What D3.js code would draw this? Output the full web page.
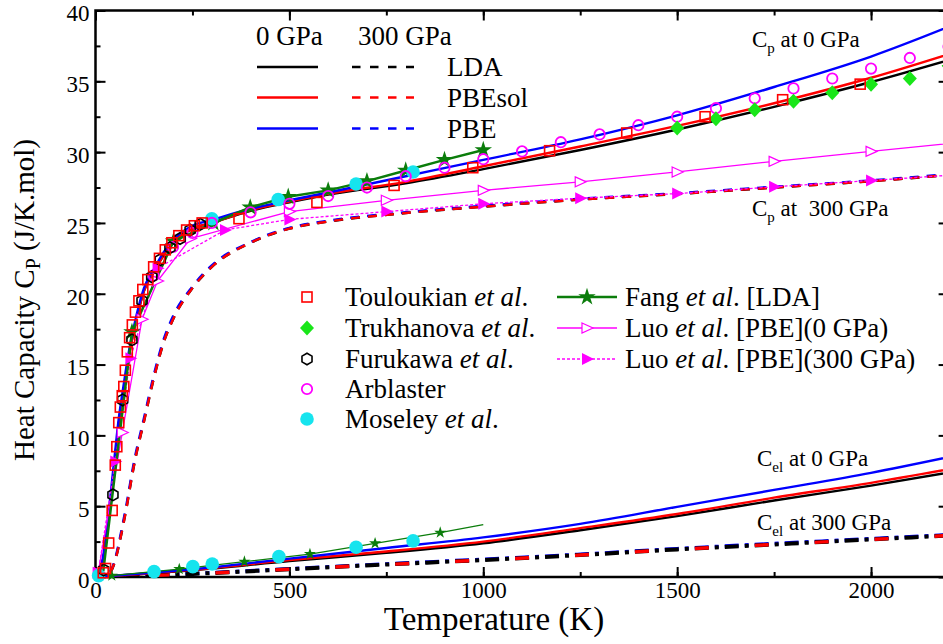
<!DOCTYPE html>
<html><head><meta charset="utf-8">
<script src="https://cdn.jsdelivr.net/npm/d3@7"></script>
<style>
body{margin:0;background:#fff}
text{font-family:"Liberation Serif","Times New Roman",serif;fill:#000;white-space:pre}
</style>
</head><body>
<svg id="c" width="943" height="644"></svg>
<script>
// ---------- DATA ----------
const xTicks = [0, 500, 1000, 1500, 2000];
const yTicks = [0, 5, 10, 15, 20, 25, 30, 35, 40];

// Cp at 0 GPa (DFT)
const T0 = [0,10,20,30,40,50,60,70,80,90,100,125,150,175,200,250,300,400,500,600,800,1000,1250,1500,1750,2000,2250];
const cpLDA0    = [0,0.3,1.3,3.2,5.6,8.2,10.8,12.7,14.5,16.2,17.5,20.2,21.5,22.7,23.6,24.6,25.0,25.85,26.45,27.0,27.8,28.8,30.15,31.6,33.2,34.95,36.9];
const cpPBEsol0 = [0,0.3,1.3,3.2,5.6,8.2,10.8,12.7,14.5,16.2,17.5,20.2,21.5,22.7,23.6,24.6,25.0,25.9,26.5,27.05,27.9,29.0,30.4,31.85,33.45,35.25,37.35];
const cpPBE0    = [0,0.35,1.5,3.6,6.1,8.7,11.2,13.1,14.9,16.5,17.8,20.4,21.7,22.9,23.8,24.8,25.2,26.0,26.6,27.15,28.3,29.45,30.9,32.6,34.6,36.75,39.4];

// Cp at 300 GPa (DFT)
const T3 = [0,20,30,40,50,60,70,80,90,100,125,150,175,200,250,300,400,500,600,800,1000,1250,1500,1750,2000,2250];
const cpLDA300    = [0,0.02,0.1,0.4,1.1,2.2,3.5,4.9,6.5,8.0,11.0,14.0,16.5,18.2,20.4,21.9,23.6,24.6,25.1,25.7,26.15,26.65,27.05,27.5,27.95,28.5];
const cpPBEsol300 = [0,0.02,0.1,0.4,1.1,2.2,3.5,4.9,6.5,8.0,11.0,14.0,16.5,18.2,20.4,21.9,23.6,24.6,25.1,25.7,26.15,26.65,27.05,27.5,27.95,28.5];
const cpPBE300    = [0,0.03,0.12,0.45,1.2,2.35,3.7,5.1,6.7,8.2,11.2,14.2,16.7,18.4,20.5,22.0,23.65,24.65,25.15,25.75,26.2,26.7,27.1,27.55,28.0,28.55];

// Electronic Cel
const TE = [0,100,250,500,750,1000,1250,1500,1750,2000,2250];
const celLDA0    = [0,0.17,0.47,1.12,1.7,2.38,3.3,4.3,5.4,6.45,7.6];
const celPBEsol0 = [0,0.18,0.5,1.2,1.8,2.5,3.45,4.45,5.6,6.65,7.85];
const celPBE0    = [0,0.2,0.55,1.3,2.05,2.8,3.75,4.95,6.15,7.35,8.75];
const celLDA300    = [0,0.08,0.22,0.55,0.88,1.2,1.55,1.95,2.3,2.65,3.0];
const celPBEsol300 = [0,0.08,0.22,0.55,0.88,1.2,1.55,1.95,2.3,2.65,3.0];
const celPBE300    = [0,0.09,0.24,0.58,0.92,1.25,1.6,2.0,2.36,2.7,3.06];

// Experiments
const toulT = [20,26,34,43,51,55,60,64,69,73,77,82,88,95,103,112,122,135,150,165,180,197,215,235,255,275,370,571,770,973,1171,1370,1572,1772,1972];
const toulV = [0.3,0.6,2.4,4.7,7.9,9.2,10.9,12.0,12.8,13.45,14.6,15.9,16.9,17.8,18.7,19.5,20.3,21.0,21.9,22.5,23.1,23.6,24.1,24.5,24.8,25.0,25.3,26.45,27.65,28.9,30.1,31.35,32.5,33.7,34.8];
const trukT = [1500,1600,1700,1800,1900,2000,2100,2200];
const trukV = [31.7,32.35,33.0,33.6,34.2,34.8,35.2,36.1];
const furuT = [21,45,70,94,120,145,167,192,218,244,270];
const furuV = [0.5,5.8,12.5,16.75,19.5,21.2,22.4,23.25,23.9,24.5,24.9];
const arblT = [150,200,250,300,400,500,600,700,800,900,1000,1100,1200,1300,1400,1500,1600,1700,1800,1900,2000,2100,2200];
const arblV = [21.3,23.3,24.3,25.0,25.75,26.35,26.9,27.5,28.3,28.9,29.5,30.05,30.7,31.25,31.9,32.5,33.1,33.8,34.5,35.2,35.9,36.65,37.45];
const moseCpT = [300,471,672,819];
const moseCpV = [25.3,26.65,27.75,28.6];
const moseCelT = [8,151,251,301,473,672,819];
const moseCelV = [0.1,0.38,0.73,0.92,1.44,2.1,2.55];

// Fang et al. [LDA]
const fangCpT = [20,94,201,304,399,497,600,700,800,900,1000];
const fangCpV = [0.4,17.3,23.7,25.0,26.1,26.85,27.3,27.95,28.7,29.45,30.15];
const fangCelT = [42,216,384,553,721,889,1000];
const fangCelV = [0.1,0.56,1.08,1.62,2.38,3.13,3.7];

// Luo et al. [PBE]
const luo0T = [7,69,120,160,245,500,750,1000,1250,1500,1750,2000,2250];
const luo0V = [0.3,10.2,18.2,20.9,23.9,25.8,26.6,27.3,27.9,28.6,29.35,30.05,30.75];
const luo300T = [7,51,90,160,334,500,750,1000,1250,1500,1750,2000,2250];
const luo300V = [0.3,8.15,15.45,21.8,24.5,25.25,25.8,26.35,26.75,27.07,27.55,28.0,28.45];

// ---------- CHART ----------
const svg = d3.select("#c");
svg.append("rect").attr("width",943).attr("height",644).attr("fill","#fff");
const X0 = 95.5, X1 = 948.6, Y0 = 577, Y1 = 10.5;
const x = d3.scaleLinear().domain([0,2200]).range([X0,X1]);
const y = d3.scaleLinear().domain([0,40]).range([Y0,Y1]);

svg.append("defs").append("clipPath").attr("id","clip")
  .append("rect").attr("x",X0).attr("y",Y1).attr("width",X1-X0).attr("height",Y0-Y1);

const BLACK="#000", RED="#ff0000", BLUE="#0000ff", GREEN="#0b7d0b", LIME="#19e619", MAG="#ff00ff", CYAN="#16e4ee";

// axes
function styleAxis(g){
  g.attr("font-family",null);
  g.select(".domain").remove();
  g.selectAll(".tick line").attr("stroke","#000").attr("stroke-width",2);
  g.selectAll(".tick text").attr("font-size",23).attr("font-family","Liberation Serif").attr("fill","#000");
}
const minorX = d3.range(0,2201,250), minorY = d3.range(0,40.1,2.5);
svg.append("g").attr("transform",`translate(0,${Y0})`)
  .call(d3.axisBottom(x).tickValues(minorX).tickSizeInner(-5).tickSizeOuter(0).tickFormat("")).call(styleAxis);
svg.append("g").attr("transform",`translate(0,${Y0})`)
  .call(d3.axisBottom(x).tickValues(xTicks).tickSizeInner(-10).tickSizeOuter(0).tickPadding(5).tickFormat(d3.format("d"))).call(styleAxis);
svg.append("g").attr("transform",`translate(0,${Y1})`)
  .call(d3.axisTop(x).tickValues(minorX).tickSizeInner(-5).tickSizeOuter(0).tickFormat("")).call(styleAxis);
svg.append("g").attr("transform",`translate(0,${Y1})`)
  .call(d3.axisTop(x).tickValues(xTicks).tickSizeInner(-10).tickSizeOuter(0).tickFormat("")).call(styleAxis);
svg.append("g").attr("transform",`translate(${X0},0)`)
  .call(d3.axisLeft(y).tickValues(minorY).tickSizeInner(-5).tickSizeOuter(0).tickFormat("")).call(styleAxis);
svg.append("g").attr("transform",`translate(${X0},0)`)
  .call(d3.axisLeft(y).tickValues(yTicks).tickSizeInner(-10).tickSizeOuter(0).tickPadding(6).tickFormat(d3.format("d"))).call(styleAxis)
  .selectAll(".tick text").attr("dy","0.45em");
svg.append("g").attr("transform",`translate(${X1},0)`)
  .call(d3.axisRight(y).tickValues(minorY).tickSizeInner(-5).tickSizeOuter(0).tickFormat("")).call(styleAxis);
svg.append("g").attr("transform",`translate(${X1},0)`)
  .call(d3.axisRight(y).tickValues(yTicks).tickSizeInner(-10).tickSizeOuter(0).tickFormat("")).call(styleAxis);
svg.append("rect").attr("x",X0).attr("y",Y1).attr("width",X1-X0).attr("height",Y0-Y1)
  .attr("fill","none").attr("stroke","#000").attr("stroke-width",2.5);

// lines
const plot = svg.append("g").attr("clip-path","url(#clip)");
function line(T,V,color,w,dash,curve){
  plot.append("path").datum(d3.zip(T,V))
    .attr("fill","none").attr("stroke",color).attr("stroke-width",w)
    .attr("stroke-dasharray",dash||null).attr("stroke-linejoin","round")
    .attr("d",d3.line().x(d=>x(d[0])).y(d=>y(d[1])).curve(curve||d3.curveMonotoneX));
}
// 300 GPa Cp dashed
line(T3,cpLDA300,BLACK,2.6,"9,8");
line(T3,cpPBE300,BLUE,2.6,"9,8");
line(T3,cpPBEsol300,RED,2.4,"9,8");
// Cel 300 GPa
line(TE,celPBE300,BLUE,3.6,"14,6,4,6");
line(TE,celLDA300,BLACK,4,"14,6,4,6");
line(TE,celPBEsol300,RED,3.4,"14,46");
// Cel 0 GPa
line(TE,celLDA0,BLACK,2.4);
line(TE,celPBEsol0,RED,2.4);
line(TE,celPBE0,BLUE,2.4);
// Cp 0 GPa
line(T0,cpLDA0,BLACK,2.4);
line(T0,cpPBEsol0,RED,2.4);
line(T0,cpPBE0,BLUE,2.4);
// Luo
line(luo0T,luo0V,MAG,1.3,null,d3.curveLinear);
line(luo300T,luo300V,MAG,1.3,"3,2",d3.curveLinear);
// Fang
line(fangCpT,fangCpV,GREEN,2.5,null,d3.curveLinear);
line(fangCelT,fangCelV,GREEN,1.3,null,d3.curveLinear);

// markers
const mk = svg.append("g");
function hexPath(r){return d3.range(6).map(i=>{const a=Math.PI/180*(60*i-90);return [r*Math.cos(a),r*Math.sin(a)];});}
const shapes = {
  square:(g)=>g.append("rect").attr("x",-5).attr("y",-5).attr("width",10).attr("height",10).attr("fill","none").attr("stroke",RED).attr("stroke-width",1.6),
  diamond:(g)=>g.append("path").attr("d","M0,-7.5L7,0L0,7.5L-7,0Z").attr("fill",LIME),
  hex:(g)=>g.append("path").attr("d","M"+hexPath(5.8).join("L")+"Z").attr("fill","none").attr("stroke",BLACK).attr("stroke-width",1.6),
  ocircle:(g)=>g.append("circle").attr("r",5.2).attr("fill","none").attr("stroke",MAG).attr("stroke-width",1.8),
  fcircle:(g)=>g.append("circle").attr("r",6.8).attr("fill",CYAN),
  star:(g)=>g.append("path").attr("d",d3.symbol(d3.symbolStar,95)()).attr("fill",GREEN),
  sstar:(g)=>g.append("path").attr("d",d3.symbol(d3.symbolStar,45)()).attr("fill",GREEN),
  otri:(g)=>g.append("path").attr("d","M-5,-5L6,0L-5,5Z").attr("fill","#fff").attr("stroke",MAG).attr("stroke-width",1.2),
  ftri:(g)=>g.append("path").attr("d","M-5,-6L7,0L-5,6Z").attr("fill",MAG)
};
function markers(T,V,kind){
  d3.zip(T,V).forEach(d=>{
    const g = mk.append("g").attr("transform",`translate(${x(d[0])},${y(d[1])})`);
    shapes[kind](g);
  });
}
markers(luo0T,luo0V,"otri");
markers(luo300T,luo300V,"ftri");
markers(fangCpT.slice(1),fangCpV.slice(1),"star");
markers(fangCelT.slice(0,-1),fangCelV.slice(0,-1),"sstar");
markers(moseCpT,moseCpV,"fcircle");
markers(moseCelT,moseCelV,"fcircle");
markers(arblT,arblV,"ocircle");
markers(furuT,furuV,"hex");
markers(trukT,trukV,"diamond");
markers(toulT,toulV,"square");

// axis titles
svg.append("text").attr("x",494).attr("y",630).attr("text-anchor","middle").attr("font-size",33).text("Temperature (K)");
const yt = svg.append("text").attr("transform","translate(34,300) rotate(-90)").attr("text-anchor","middle").attr("font-size",29);
yt.append("tspan").text("Heat Capacity C");
yt.append("tspan").attr("font-size",20).attr("dy",6).text("P");
yt.append("tspan").attr("dy",-6).text(" (J/K.mol)");

// annotations
function sublabel(xp,yp,main,sub,rest){
  const t = svg.append("text").attr("x",xp).attr("y",yp).attr("font-size",23);
  t.append("tspan").text(main);
  t.append("tspan").attr("font-size",15).attr("dy",6).text(sub);
  t.append("tspan").attr("dy",-6).text(rest);
}
sublabel(752,47,"C","p"," at 0 GPa");
sublabel(752,216,"C","p"," at  300 GPa");
sublabel(757,466,"C","el"," at 0 GPa");
sublabel(757,530,"C","el"," at 300 GPa");

// top legend
const L1 = svg.append("g");
L1.append("text").attr("x",256).attr("y",45).attr("font-size",27).text("0 GPa");
L1.append("text").attr("x",358).attr("y",45).attr("font-size",27).text("300 GPa");
const legRows = [["LDA",BLACK,67],["PBEsol",RED,97.5],["PBE",BLUE,128.5]];
legRows.forEach(r=>{
  L1.append("line").attr("x1",257).attr("x2",318).attr("y1",r[2]).attr("y2",r[2]).attr("stroke",r[1]).attr("stroke-width",2.6);
  L1.append("line").attr("x1",352).attr("x2",414).attr("y1",r[2]).attr("y2",r[2]).attr("stroke",r[1]).attr("stroke-width",2.6).attr("stroke-dasharray","8.5,9.5");
  L1.append("text").attr("x",447).attr("y",r[2]+9).attr("font-size",27).text(r[0]);
});

// experiment legend
const L2 = svg.append("g");
const expRows = [["square","Touloukian ",true,297],["diamond","Trukhanova ",true,328],["hex","Furukawa ",true,359],["ocircle","Arblaster",false,389],["fcircle","Moseley ",true,419]];
expRows.forEach(r=>{
  const g = L2.append("g").attr("transform",`translate(307,${r[3]})`);
  shapes[r[0]](g);
  const t = L2.append("text").attr("x",345).attr("y",r[3]+9).attr("font-size",27);
  t.append("tspan").text(r[1]);
  if(r[2]){ t.append("tspan").attr("font-style","italic").text("et al"); t.append("tspan").text("."); }
});
const thRows = [["star",GREEN,2.5,null,"Fang ",". [LDA]",297],["otri",MAG,1.3,null,"Luo ",". [PBE](0 GPa)",328],["ftri",MAG,1.3,"3,2","Luo ",". [PBE](300 GPa)",359]];
thRows.forEach(r=>{
  L2.append("line").attr("x1",557).attr("x2",617).attr("y1",r[6]).attr("y2",r[6]).attr("stroke",r[1]).attr("stroke-width",r[2]).attr("stroke-dasharray",r[3]);
  const g = L2.append("g").attr("transform",`translate(587,${r[6]})`);
  shapes[r[0]](g);
  const t = L2.append("text").attr("x",625).attr("y",r[6]+9).attr("font-size",27);
  t.append("tspan").text(r[4]);
  t.append("tspan").attr("font-style","italic").text("et al");
  t.append("tspan").text(r[5]);
});
</script>
</body></html>
